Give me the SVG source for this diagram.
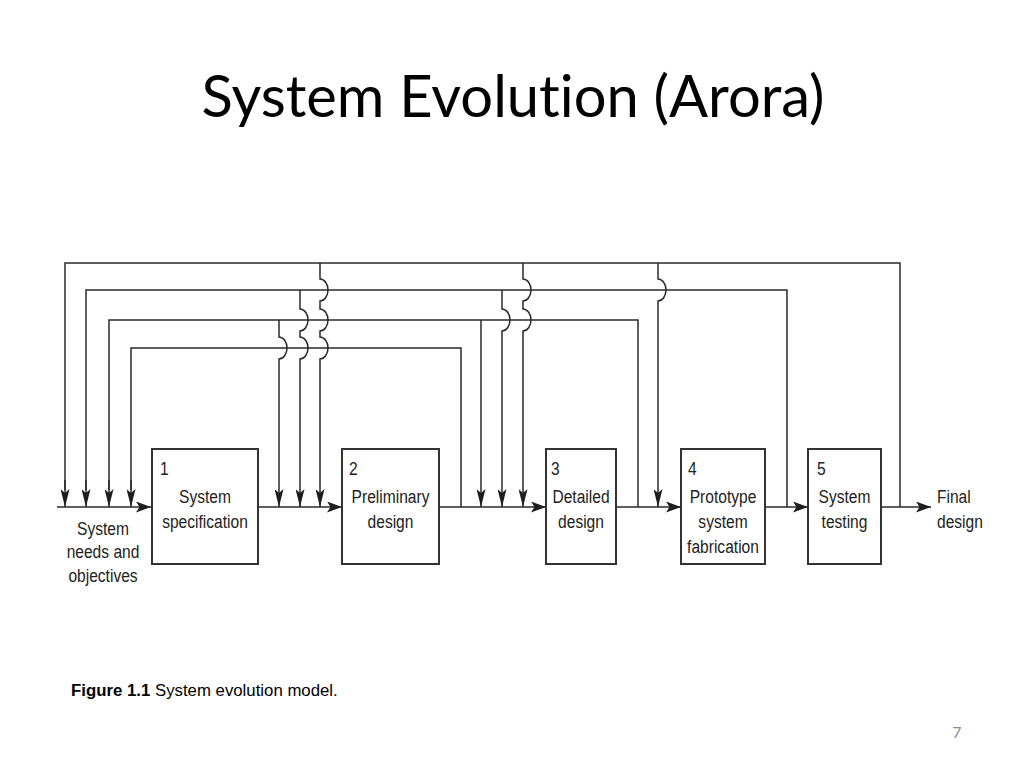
<svg xmlns="http://www.w3.org/2000/svg" width="1024" height="768" viewBox="0 0 1024 768">
<defs>
<marker id="arrV" markerUnits="userSpaceOnUse" markerWidth="18" markerHeight="9" viewBox="0 0 18 9" refX="18" refY="4.5" orient="auto">
<path d="M0,0 L18,4.5 L0,9 L4,4.5 Z" fill="#1e1e1e"/>
</marker>
<marker id="arrH" markerUnits="userSpaceOnUse" markerWidth="15" markerHeight="11" viewBox="0 0 15 11" refX="15" refY="5.5" orient="auto">
<path d="M0,0 L15,5.5 L0,11 L3.5,5.5 Z" fill="#1e1e1e"/>
</marker>
<style>
.ln{fill:none;stroke:#2a2a2a;stroke-width:1.5}
.box{fill:#fff;stroke:#333;stroke-width:2}
.lbl{font-family:"Liberation Sans",Arial,sans-serif;font-size:19px;fill:#222}
.mid{text-anchor:middle}
</style>
</defs>
<rect width="1024" height="768" fill="#fff"/>
<text x="513" y="117" text-anchor="middle" font-family="Lato,'Open Sans',sans-serif" font-size="58" textLength="623" lengthAdjust="spacingAndGlyphs" fill="#000" style="font-variant-ligatures:none">System Evolution (Arora)</text>
<g id="connectors">
<path class="ln" d="M65,490 V263 H900 V507"/>
<path class="ln" d="M86,490 V290 H787 V507"/>
<path class="ln" d="M109,490 V320 H638 V507"/>
<path class="ln" d="M131,490 V348 H461 V507"/>
<path class="ln" d="M65,480 V507" marker-end="url(#arrV)"/>
<path class="ln" d="M86,480 V507" marker-end="url(#arrV)"/>
<path class="ln" d="M109,480 V507" marker-end="url(#arrV)"/>
<path class="ln" d="M131,480 V507" marker-end="url(#arrV)"/>
<path class="ln" d="M279,320 V337 A8 11 0 0 1 279,359 V507" marker-end="url(#arrV)"/>
<path class="ln" d="M300,290 V309 A8 11 0 0 1 300,331 V337 A8 11 0 0 1 300,359 V507" marker-end="url(#arrV)"/>
<path class="ln" d="M320,263 V279 A8 11 0 0 1 320,301 V309 A8 11 0 0 1 320,331 V337 A8 11 0 0 1 320,359 V507" marker-end="url(#arrV)"/>
<path class="ln" d="M481,320 V507" marker-end="url(#arrV)"/>
<path class="ln" d="M502,290 V309 A8 11 0 0 1 502,331 V507" marker-end="url(#arrV)"/>
<path class="ln" d="M523,263 V279 A8 11 0 0 1 523,301 V309 A8 11 0 0 1 523,331 V507" marker-end="url(#arrV)"/>
<path class="ln" d="M658,263 V279 A8 11 0 0 1 658,301 V507" marker-end="url(#arrV)"/>
<path class="ln" d="M57,507 H151" marker-end="url(#arrH)"/>
<path class="ln" d="M258,507 H342" marker-end="url(#arrH)"/>
<path class="ln" d="M439,507 H546" marker-end="url(#arrH)"/>
<path class="ln" d="M616,507 H681" marker-end="url(#arrH)"/>
<path class="ln" d="M765,507 H808" marker-end="url(#arrH)"/>
<path class="ln" d="M881,507 H931" marker-end="url(#arrH)"/>
</g>
<g id="input">
<text class="lbl mid" transform="translate(103,535) scale(0.82,1)">System</text>
<text class="lbl mid" transform="translate(103,558) scale(0.82,1)">needs and</text>
<text class="lbl mid" transform="translate(103,582) scale(0.82,1)">objectives</text>
</g>
<g id="n1">
<rect class="box" x="152" y="449" width="106" height="115"/>
<text class="lbl" transform="translate(160,475) scale(0.82,1)">1</text>
<text class="lbl mid" transform="translate(205,503) scale(0.82,1)">System</text>
<text class="lbl mid" transform="translate(205,528) scale(0.82,1)">specification</text>
</g>
<g id="n2">
<rect class="box" x="342" y="449" width="97" height="115"/>
<text class="lbl" transform="translate(349,475) scale(0.82,1)">2</text>
<text class="lbl mid" transform="translate(390.5,503) scale(0.82,1)">Preliminary</text>
<text class="lbl mid" transform="translate(390.5,528) scale(0.82,1)">design</text>
</g>
<g id="n3">
<rect class="box" x="546" y="449" width="70" height="115"/>
<text class="lbl" transform="translate(551,475) scale(0.82,1)">3</text>
<text class="lbl mid" transform="translate(581,503) scale(0.82,1)">Detailed</text>
<text class="lbl mid" transform="translate(581,528) scale(0.82,1)">design</text>
</g>
<g id="n4">
<rect class="box" x="681" y="449" width="84" height="115"/>
<text class="lbl" transform="translate(688,475) scale(0.82,1)">4</text>
<text class="lbl mid" transform="translate(723,503) scale(0.82,1)">Prototype</text>
<text class="lbl mid" transform="translate(723,528) scale(0.82,1)">system</text>
<text class="lbl mid" transform="translate(723,553) scale(0.82,1)">fabrication</text>
</g>
<g id="n5">
<rect class="box" x="808" y="449" width="73" height="115"/>
<text class="lbl" transform="translate(817,475) scale(0.82,1)">5</text>
<text class="lbl mid" transform="translate(844.5,503) scale(0.82,1)">System</text>
<text class="lbl mid" transform="translate(844.5,528) scale(0.82,1)">testing</text>
</g>
<g id="output">
<text class="lbl" transform="translate(937,503) scale(0.82,1)">Final</text>
<text class="lbl" transform="translate(937,528) scale(0.82,1)">design</text>
</g>
<text x="71" y="696" font-family="'Liberation Sans',Arial,sans-serif" font-size="16.8" fill="#000"><tspan font-weight="bold">Figure 1.1</tspan> System evolution model.</text>
<text x="957" y="738" text-anchor="middle" font-family="Lato,'Open Sans',sans-serif" font-size="16" fill="#8c8c8c">7</text>
</svg>
